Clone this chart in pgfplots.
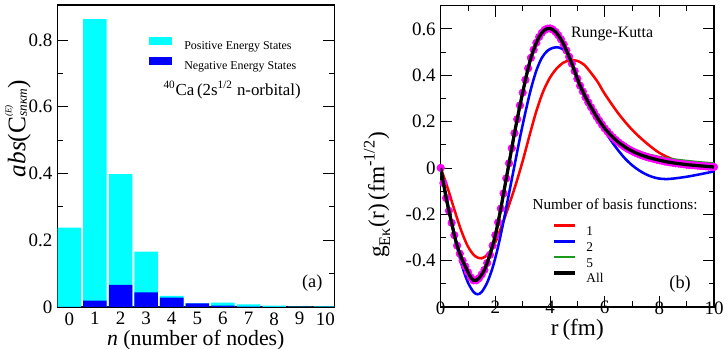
\documentclass[border=0pt]{standalone}
\usepackage{fontspec}
\setmainfont{Liberation Serif}
\usepackage{amsmath}
\usepackage{pgfplots}
\pgfplotsset{compat=1.18}
\definecolor{pcyan}{HTML}{00FFFF}
\definecolor{pblue}{HTML}{0000FF}
\definecolor{pred}{HTML}{FF0000}
\definecolor{pmag}{HTML}{FF00FF}
\definecolor{cgreen}{HTML}{1A9A1A}

% Runge-Kutta solution (also the "All" curve)
\pgfplotstableread{
r g
0.0 0
0.1 -0.065
0.2 -0.13
0.3 -0.185
0.4 -0.237
0.5 -0.29
0.6 -0.335
0.7 -0.37
0.8 -0.40
0.9 -0.425
1.0 -0.45
1.1 -0.472
1.2 -0.485
1.3 -0.485
1.4 -0.476
1.5 -0.46
1.6 -0.44
1.7 -0.41
1.8 -0.375
1.9 -0.335
2.0 -0.29
2.1 -0.235
2.2 -0.175
2.3 -0.11
2.4 -0.045
2.5 0.02
2.6 0.085
2.7 0.15
2.8 0.21
2.9 0.27
3.0 0.325
3.1 0.38
3.2 0.43
3.3 0.475
3.4 0.51
3.5 0.54
3.6 0.565
3.7 0.583
3.8 0.595
3.9 0.601
4.0 0.602
4.1 0.597
4.2 0.587
4.3 0.573
4.4 0.555
4.5 0.533
4.6 0.507
4.7 0.48
4.8 0.45
4.9 0.418
5.0 0.385
5.1 0.355
5.2 0.33
5.3 0.305
5.4 0.283
5.5 0.262
5.6 0.242
5.7 0.222
5.8 0.204
5.9 0.187
6.0 0.171
6.1 0.157
6.2 0.144
6.3 0.132
6.4 0.121
6.5 0.111
6.6 0.102
6.7 0.094
6.8 0.086
6.9 0.079
7.0 0.073
7.1 0.067
7.2 0.062
7.3 0.057
7.4 0.053
7.5 0.049
7.6 0.045
7.7 0.042
7.8 0.039
7.9 0.036
8.0 0.033
8.1 0.031
8.2 0.028
8.3 0.026
8.4 0.024
8.5 0.022
8.6 0.020
8.7 0.019
8.8 0.017
8.9 0.016
9.0 0.014
9.1 0.013
9.2 0.012
9.3 0.011
9.4 0.010
9.5 0.009
9.6 0.008
9.7 0.007
9.8 0.006
9.9 0.005
10.0 0.004
}\rkdata

\pgfplotstableread{
r g
0 0
0.25 -0.085
0.5 -0.18
0.75 -0.27
1.0 -0.34
1.25 -0.38
1.5 -0.39
1.75 -0.37
2.0 -0.32
2.25 -0.245
2.5 -0.16
2.75 -0.07
3.0 0.03
3.25 0.14
3.5 0.245
3.75 0.33
4.0 0.39
4.25 0.43
4.5 0.455
4.75 0.465
5.0 0.462
5.25 0.445
5.5 0.41
5.75 0.37
6.0 0.32
6.5 0.235
7.0 0.165
7.5 0.11
8.0 0.065
8.5 0.037
9.0 0.022
9.5 0.012
10.0 0.006
}\basisone

\pgfplotstableread{
r g
0 0
0.2 -0.12
0.4 -0.235
0.6 -0.34
0.8 -0.43
1.0 -0.495
1.2 -0.535
1.35 -0.545
1.5 -0.535
1.7 -0.495
1.9 -0.43
2.1 -0.34
2.3 -0.23
2.5 -0.11
2.7 0.01
2.9 0.13
3.1 0.24
3.3 0.34
3.5 0.42
3.7 0.475
3.9 0.505
4.1 0.518
4.3 0.52
4.5 0.51
4.7 0.48
4.9 0.42
5.1 0.355
5.3 0.305
5.5 0.26
5.75 0.21
6.0 0.16
6.25 0.115
6.5 0.075
6.75 0.04
7.0 0.012
7.25 -0.01
7.5 -0.027
7.75 -0.039
8.0 -0.046
8.25 -0.048
8.5 -0.046
9.0 -0.038
9.5 -0.027
10.0 -0.015
}\basistwo

\pgfplotstableread{
r g
0.0 0
0.2 -0.13
0.4 -0.237
0.6 -0.335
0.8 -0.40
1.0 -0.45
1.2 -0.485
1.4 -0.476
1.6 -0.44
1.8 -0.375
2.0 -0.29
2.2 -0.175
2.4 -0.045
2.6 0.085
2.8 0.21
3.0 0.325
3.2 0.43
3.4 0.51
3.6 0.565
3.8 0.595
4.0 0.602
4.2 0.587
4.4 0.555
4.6 0.507
4.8 0.45
5.0 0.385
5.2 0.33
5.4 0.283
5.6 0.242
5.8 0.204
6.0 0.171
6.2 0.144
6.5 0.113
6.75 0.097
7.0 0.082
7.5 0.061
8.0 0.047
8.5 0.037
9.0 0.030
9.5 0.024
10.0 0.019
}\basisfive

\begin{document}
\begin{tikzpicture}
\useasboundingbox (0,0) rectangle (18.175cm,8.725cm);

% ---------- (a) expansion coefficients ----------
\begin{axis}[
  at={(1.4325cm,1.05cm)}, anchor=south west,
  scale only axis, width=6.925cm, height=7.55cm,
  xmin=-0.47, xmax=10.35, ymin=0, ymax=0.905,
  ybar, bar width=0.92,
  xtick={0,...,10}, xtick style={draw=none},
  ytick={0,0.2,0.4,0.6,0.8}, yticklabels={0,0.2,0.4,0.6,0.8},
  minor ytick={0.1,0.3,0.5,0.7},
  major tick length=0.275cm, minor tick length=0.1375cm,
  tick style={black, line width=0.6pt},
  axis line style={line width=0.8pt},
  /pgf/number format/assume math mode=true,
  ticklabel style={font=\fontsize{13.5}{14}\selectfont},
  xticklabel style={yshift=7.5pt},
  xlabel style={font=\fontsize{15.5}{17}\selectfont, yshift=3.5pt},
  xlabel={\textit{n} (number of nodes)},
  ylabel style={font=\fontsize{18}{20}\selectfont,
    at={(axis description cs:-0.142,0.59)}, anchor=center},
  ylabel={\textit{abs}(C\rlap{\raisebox{10pt}{\fontsize{6.5}{7}\selectfont\textit{(E)}}}\raisebox{-1pt}{\fontsize{9.5}{10}\selectfont\textit{snκm}})},
  legend image code/.code={\path[draw=none,fill=none] (0cm,0pt) rectangle (0.575cm,6pt);
    \fill[#1] (0cm,0.15pt) rectangle (0.575cm,5.85pt);},
  legend style={at={(0.331,0.897)}, anchor=north west, draw=none, fill=none,
    inner sep=0pt, row sep=5.4pt,
    font=\fontsize{8.5}{9}\selectfont,
    nodes={inner sep=0pt, text height=6pt, text depth=0pt},
    /tikz/every odd column/.append style={column sep=0.3cm}},
  legend cell align=left,
]
\addplot[fill=pcyan, draw=none, bar shift=0pt] coordinates {
  (0,0.238) (1,0.863) (2,0.398) (3,0.166) (4,0.033) (5,0.011)
  (6,0.013) (7,0.008) (8,0.004) (9,0.001) (10,0.002)};
\addlegendentry{Positive Energy States}
\addplot[fill=pblue, draw=none, bar shift=0pt] coordinates {
  (0,0) (1,0.019) (2,0.066) (3,0.044) (4,0.028) (5,0.011)
  (6,0.004) (7,0.001) (8,0.0005) (9,0.0005) (10,0.0005)};
\addlegendentry{Negative Energy States}
\node[font=\fontsize{12}{14}\selectfont] at (axis cs:6.36,0.65)
  {\textsuperscript{40}Ca\,(2s\textsuperscript{1/2} n-orbital)};
\node[font=\fontsize{13}{14}\selectfont] at (axis cs:9.49,0.072) {(a)};
\end{axis}

% ---------- (b) radial wave function ----------
\begin{axis}[
  at={(11.0175cm,1.05cm)}, anchor=south west,
  scale only axis, width=6.8325cm, height=7.5325cm,
  xmin=0, xmax=10, ymin=-0.6, ymax=0.7,
  clip mode=individual,
  xtick={0,2,...,10}, minor xtick={1,3,5,7,9},
  ytick={-0.4,-0.2,0,0.2,0.4,0.6}, yticklabels={-0.4,-0.2,0,0.2,0.4,0.6},
  minor ytick={-0.5,-0.3,-0.1,0.1,0.3,0.5},
  major tick length=0.275cm, minor tick length=0.1375cm,
  tick style={black, line width=0.6pt},
  axis line style={line width=0.8pt},
  /pgf/number format/assume math mode=true,
  ticklabel style={font=\fontsize{13.5}{14}\selectfont},
  xticklabel style={yshift=7.5pt},
  label style={font=\fontsize{16.5}{18}\selectfont},
  xlabel={r\,(fm)},
  ylabel={$\text{g}_{\text{Eκ}}\text{(r)\,(fm}^{\text{-1/2}}\text{)}$},
  xlabel style={yshift=3pt},
  ylabel style={at={(axis description cs:-0.233,0.372)}, anchor=center},
  legend image code/.code={\path[draw=none,fill=none] (0cm,0pt) rectangle (0.525cm,7pt);
    \draw[#1] (0cm,3.5pt) -- (0.525cm,3.5pt);},
  legend style={at={(0.407,0.287)}, anchor=north west, draw=none, fill=none,
    inner sep=0pt, row sep=0.7pt,
    font=\fontsize{9.5}{10}\selectfont,
    nodes={inner sep=0pt, text height=7pt, text depth=0pt},
    /tikz/every odd column/.append style={column sep=0.25cm}},
  legend cell align=left,
]
\addplot[pred, line width=1.8pt, smooth] table[x=r,y=g] {\basisone};
\addlegendentry{1}
\addplot[pblue, line width=1.8pt, smooth] table[x=r,y=g] {\basistwo};
\addlegendentry{2}
\addplot[cgreen, line width=1.8pt, smooth] table[x=r,y=g] {\basisfive};
\addlegendentry{5}
\addplot[only marks, mark=*, mark size=2.7pt, pmag, forget plot] table[x=r,y=g] {\rkdata};
\addplot[black, line width=2.3pt, smooth] table[x=r,y=g] {\rkdata};
\addlegendentry{All}
\node[font=\fontsize{11.3}{13}\selectfont] at (axis cs:6.27,0.58) {Runge-Kutta};
\node[font=\fontsize{10.8}{13}\selectfont] at (axis cs:6.38,-0.157) {Number of basis functions:};
\node[font=\fontsize{13}{14}\selectfont] at (axis cs:8.76,-0.50) {(b)};
\end{axis}
\end{tikzpicture}
\end{document}
